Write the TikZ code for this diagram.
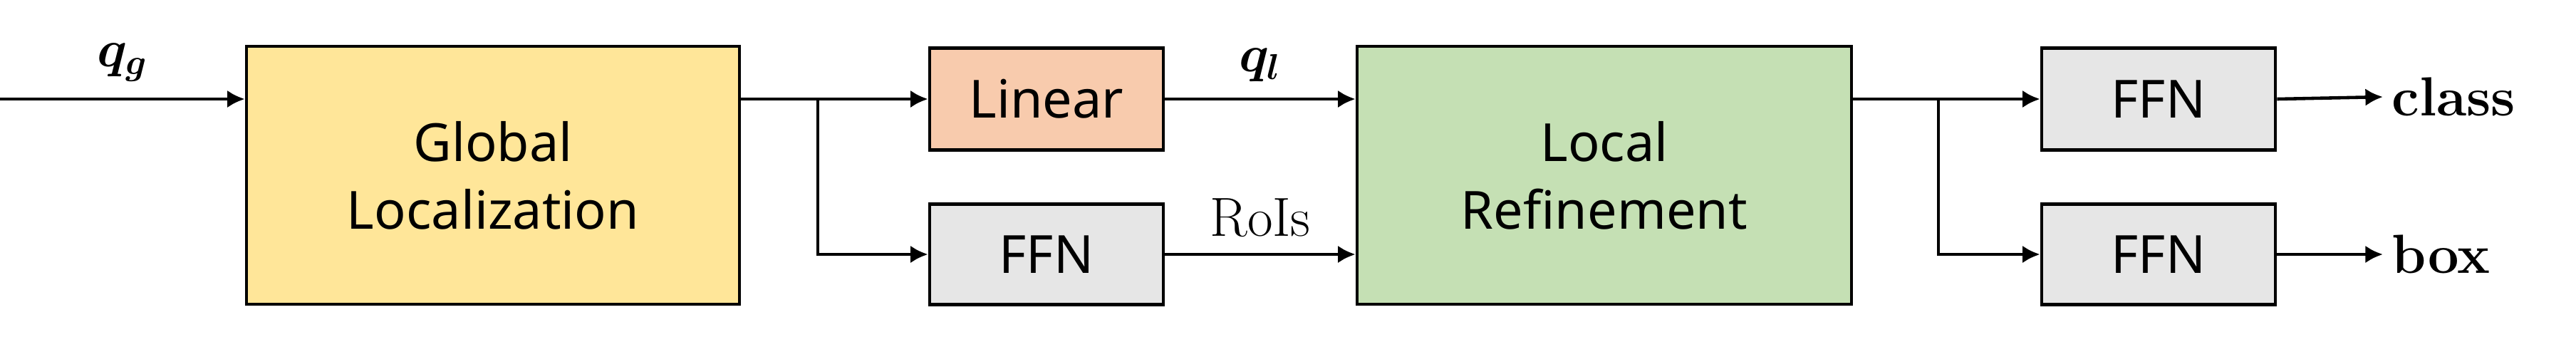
\documentclass[tikz,border=0pt]{standalone}
\usepackage{amsmath}
\usepackage{fontspec}
\setsansfont{Noto Sans}
\usetikzlibrary{arrows.meta}
\definecolor{glyellow}{HTML}{FFE699}
\definecolor{linpeach}{HTML}{F8CBAD}
\definecolor{ffngray}{HTML}{E6E6E6}
\definecolor{lrgreen}{HTML}{C5E0B4}
\tikzset{
  blockbox/.style={draw, line width=1.3pt, font=\sffamily\fontsize{21}{27}\selectfont, align=center, inner sep=0pt},
  flow/.style={-{Latex[length=7pt,width=7pt]}, line width=1.3pt},
  tag/.style={font=\bfseries\fontsize{22}{26}\selectfont}
}
\begin{document}
\begin{tikzpicture}
            \useasboundingbox (0,0) rectangle (36.16,4.72);
            \node[blockbox, fill=glyellow, minimum width=6.92cm, minimum height=3.62cm] (global) at (6.92,2.26) {Global\\Localization};
            \node[blockbox, fill=linpeach, minimum width=3.28cm, minimum height=1.43cm] (linear) at (14.69,3.33) {Linear};
            \node[blockbox, fill=ffngray, minimum width=3.28cm, minimum height=1.41cm] (ffn) at (14.69,1.15) {FFN};
            \node[blockbox, fill=lrgreen, minimum width=6.94cm, minimum height=3.62cm] (local) at (22.52,2.26) {Local\\Refinement};
            \node[blockbox, fill=ffngray, minimum width=3.28cm, minimum height=1.43cm] (ffnc) at (30.30,3.33) {FFN};
            \node[blockbox, fill=ffngray, minimum width=3.28cm, minimum height=1.41cm] (ffnb) at (30.30,1.15) {FFN};

            \coordinate (in) at (0,3.33);
            \coordinate (split1) at (11.48,3.33);
            \coordinate (split2) at (27.21,3.33);
            \node[tag, anchor=west] (cls) at (33.45,3.36) {class};
            \node[tag, anchor=west] (bx) at (33.45,1.15) {box};

            \draw[flow] (in) -- node[above=3pt, tag]{$\boldsymbol{q_g}$} (global.west |- in);
            \draw[flow] (global.east |- split1) -- (linear.west);
            \draw[flow] (split1) |- (ffn.west);
            \draw[flow] (linear.east) -- node[above=3pt, tag]{$\boldsymbol{q_l}$} (local.west |- linear.east);
            \draw[flow] (ffn.east) -- node[above=3pt, tag, font=\fontsize{22}{26}\selectfont]{RoIs} (local.west |- ffn.east);
            \draw[flow] (local.east |- split2) -- (ffnc.west);
            \draw[flow] (split2) |- (ffnb.west);
            \draw[flow] (ffnc.east) -- (cls.west);
            \draw[flow] (ffnb.east) -- (bx.west);

        \end{tikzpicture}
\end{document}
